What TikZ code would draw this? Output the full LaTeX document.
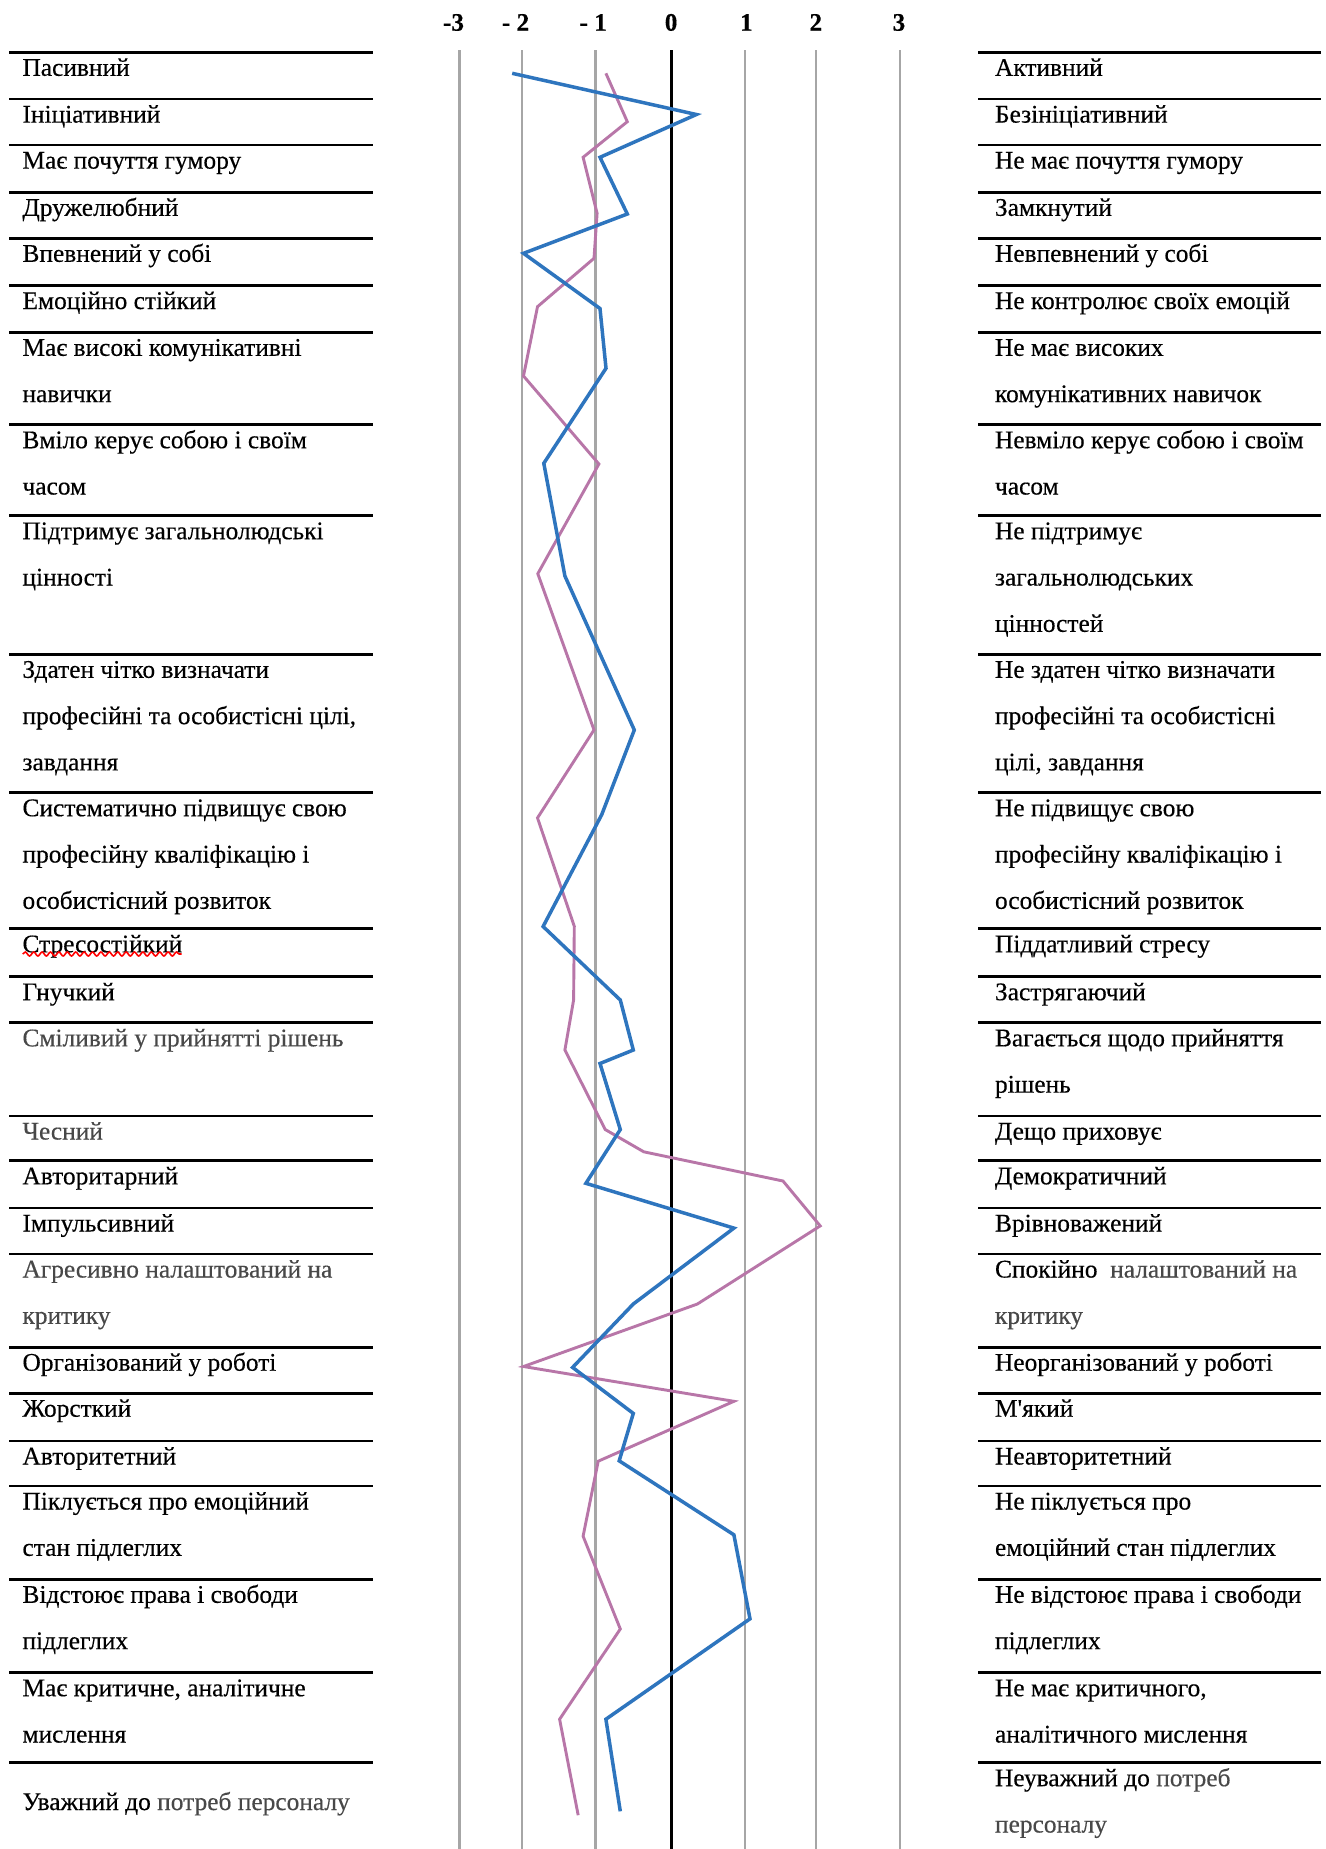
\documentclass[tikz,border=0pt]{standalone}
\usepackage{fontspec}
\setmainfont{Liberation Serif}[Ligatures=TeXOff, FakeBold=0.35]
\usetikzlibrary{decorations.pathmorphing}
\definecolor{serblue}{RGB}{46,117,190}
\definecolor{serpink}{RGB}{184,118,168}
\definecolor{gridgray}{RGB}{166,166,166}
\definecolor{txtgray}{RGB}{72,72,72}
\newcommand\cellfont{\fontsize{12.7pt}{23.15pt}\selectfont}
\newcommand\ts{\rule{0pt}{11.75pt}}
\begin{document}
\begin{tikzpicture}[x=0.5pt,y=-0.5pt,
  cell/.style={anchor=north west, inner sep=0pt, outer sep=0pt, align=left, font=\cellfont},
  rowline/.style={line width=1.35pt, black},
  gridline/.style={line width=1.15pt, gridgray},
  zeroline/.style={line width=1.15pt, black},
  axislbl/.style={anchor=base, inner sep=0pt, font=\fontsize{12.6pt}{15pt}\selectfont\bfseries},
  serA/.style={line width=1.75pt, serblue, line join=miter},
  serB/.style={line width=1.45pt, serpink, line join=miter},
  spell/.style={red, line width=0.8pt, decorate, decoration={snake, amplitude=1pt, segment length=4.2pt}}]
\useasboundingbox (0,0) rectangle (1326,1849);
\fill[white] (0,0) rectangle (1326,1849);

% grid
\foreach \x in {459.6,522,595.4,745,816,900.3} \draw[gridline] (\x,50) -- (\x,1849);
\draw[zeroline] (671.5,50) -- (671.5,1849);

% axis labels
\node[axislbl] (am3) at (453.5,30.7) {-3};
\node[axislbl] (am2) at (515.6,30.7) {- 2};
\node[axislbl] (am1) at (593.2,30.7) {- 1};
\node[axislbl] (a0) at (671.1,30.7) {0};
\node[axislbl] (ap1) at (746.4,30.7) {1};
\node[axislbl] (ap2) at (815.8,30.7) {2};
\node[axislbl] (ap3) at (899,30.7) {3};

% row lines
\foreach \y in {52.3,99.1,145.1,192.3,238.3,285.5,332.3,424.7,515.7,654.3,792.7,928.8,976.7,1022.8,1116,1160.8,1208,1254,1347.2,1393.2,1441,1486,1579.3,1672.7,1762.7}
  {\draw[rowline] (9,\y) -- (373,\y); \draw[rowline] (978,\y) -- (1320.5,\y);}

% left column
\node[cell] (l1) at (22.5,52.3) {\ts Пасивний};
\node[cell] (l2) at (22.5,99.1) {\ts Ініціативний};
\node[cell] (l3) at (22.5,145.1) {\ts Має почуття гумору};
\node[cell] (l4) at (22.5,192.3) {\ts Дружелюбний};
\node[cell] (l5) at (22.5,238.3) {\ts Впевнений у собі};
\node[cell] (l6) at (22.5,285.5) {\ts Емоційно стійкий};
\node[cell] (l7) at (22.5,332.3) {\ts Має високі комунікативні\\навички};
\node[cell] (l8) at (22.5,424.7) {\ts Вміло керує собою і своїм\\часом};
\node[cell] (l9) at (22.5,515.7) {\ts Підтримує загальнолюдські\\цінності};
\node[cell] (l10) at (22.5,654.3) {\ts Здатен чітко визначати\\професійні та особистісні цілі,\\завдання};
\node[cell] (l11) at (22.5,792.7) {\ts Систематично підвищує свою\\професійну кваліфікацію і\\особистісний розвиток};
\node[cell] (l12) at (22.5,928.8) {\ts Стресостійкий};
\node[cell] (l13) at (22.5,976.7) {\ts Гнучкий};
\node[cell, text=txtgray] (l14) at (22.5,1022.8) {\ts Сміливий у прийнятті рішень};
\node[cell, text=txtgray] (l15) at (22.5,1116) {\ts Чесний};
\node[cell] (l16) at (22.5,1160.8) {\ts Авторитарний};
\node[cell] (l17) at (22.5,1208) {\ts Імпульсивний};
\node[cell, text=txtgray] (l18) at (22.5,1254) {\ts Агресивно налаштований на\\критику};
\node[cell] (l19) at (22.5,1347.2) {\ts Організований у роботі};
\node[cell] (l20) at (22.5,1393.2) {\ts Жорсткий};
\node[cell] (l21) at (22.5,1441) {\ts Авторитетний};
\node[cell] (l22) at (22.5,1486) {\ts Піклується про емоційний\\стан підлеглих};
\node[cell] (l23) at (22.5,1579.3) {\ts Відстоює права і свободи\\підлеглих};
\node[cell] (l24) at (22.5,1672.7) {\ts Має критичне, аналітичне\\мислення};
\node[cell] (l25) at (22.5,1786.5) {\ts Уважний до {\color{txtgray}потреб персоналу}};
\draw[spell] (22.7,954) -- (181.5,954);

% right column
\node[cell] (r1) at (995,52.3) {\ts Активний};
\node[cell] (r2) at (995,99.1) {\ts Безініціативний};
\node[cell] (r3) at (995,145.1) {\ts Не має почуття гумору};
\node[cell] (r4) at (995,192.3) {\ts Замкнутий};
\node[cell] (r5) at (995,238.3) {\ts Невпевнений у собі};
\node[cell] (r6) at (995,285.5) {\ts Не контролює своїх емоцій};
\node[cell] (r7) at (995,332.3) {\ts Не має високих\\комунікативних навичок};
\node[cell] (r8) at (995,424.7) {\ts Невміло керує собою і своїм\\часом};
\node[cell] (r9) at (995,515.7) {\ts Не підтримує\\загальнолюдських\\цінностей};
\node[cell] (r10) at (995,654.3) {\ts Не здатен чітко визначати\\професійні та особистісні\\цілі, завдання};
\node[cell] (r11) at (995,792.7) {\ts Не підвищує свою\\професійну кваліфікацію і\\особистісний розвиток};
\node[cell] (r12) at (995,928.8) {\ts Піддатливий стресу};
\node[cell] (r13) at (995,976.7) {\ts Застрягаючий};
\node[cell] (r14) at (995,1022.8) {\ts Вагається щодо прийняття\\рішень};
\node[cell] (r15) at (995,1116) {\ts Дещо приховує};
\node[cell] (r16) at (995,1160.8) {\ts Демократичний};
\node[cell] (r17) at (995,1208) {\ts Врівноважений};
\node[cell] (r18) at (995,1254) {\ts Спокійно\ \ {\color{txtgray}налаштований на}\\\color{txtgray}критику};
\node[cell] (r19) at (995,1347.2) {\ts Неорганізований у роботі};
\node[cell] (r20) at (995,1393.2) {\ts М'який};
\node[cell] (r21) at (995,1441) {\ts Неавторитетний};
\node[cell] (r22) at (995,1486) {\ts Не піклується про\\емоційний стан підлеглих};
\node[cell] (r23) at (995,1579.3) {\ts Не відстоює права і свободи\\підлеглих};
\node[cell] (r24) at (995,1672.7) {\ts Не має критичного,\\аналітичного мислення};
\node[cell] (r25) at (995,1762.7) {\ts Неуважний до {\color{txtgray}потреб}\\\color{txtgray}персоналу};

% data points
\coordinate (b1) at (512.2,73.3);
\coordinate (b2) at (696.4,114.5);
\coordinate (b3) at (600,157.3);
\coordinate (b4) at (627.3,214);
\coordinate (b5) at (523.5,253.3);
\coordinate (b6) at (600,308.5);
\coordinate (b7) at (606,368.3);
\coordinate (b8) at (543.8,463.3);
\coordinate (b9) at (564.9,576);
\coordinate (b10) at (634.3,730);
\coordinate (b11) at (601.7,814.7);
\coordinate (b12) at (543.1,926.5);
\coordinate (b13) at (620.3,1000);
\coordinate (b14) at (633.3,1050);
\coordinate (b15) at (600,1063.5);
\coordinate (b16) at (620.3,1129.5);
\coordinate (b17) at (585.9,1183.3);
\coordinate (b18) at (733.9,1228.1);
\coordinate (b19) at (633.3,1304);
\coordinate (b20) at (572.6,1367.4);
\coordinate (b21) at (633.3,1413.4);
\coordinate (b22) at (619.2,1460.8);
\coordinate (b23) at (733.9,1534.8);
\coordinate (b24) at (750,1618.8);
\coordinate (b25) at (605.9,1719.2);
\coordinate (b26) at (620.3,1811.3);

\coordinate (p1) at (605.9,73.3);
\coordinate (p2) at (627.3,121.7);
\coordinate (p3) at (583.1,157.3);
\coordinate (p4) at (597.1,213.3);
\coordinate (p5) at (594,258.3);
\coordinate (p6) at (537.5,306.7);
\coordinate (p7) at (523.5,376);
\coordinate (p8) at (598.9,464);
\coordinate (p9) at (537.8,573.7);
\coordinate (p10) at (594,729.9);
\coordinate (p11) at (537.5,817.9);
\coordinate (p12) at (574.3,926.3);
\coordinate (p13) at (573.6,1000);
\coordinate (p14) at (564.9,1050);
\coordinate (p15) at (605.2,1129.5);
\coordinate (p16) at (643.8,1151.8);
\coordinate (p17) at (783,1181);
\coordinate (p18) at (820.2,1225.9);
\coordinate (p19) at (697.4,1304);
\coordinate (p20) at (523.5,1366.5);
\coordinate (p21) at (733.9,1401.3);
\coordinate (p22) at (598.2,1461.2);
\coordinate (p23) at (583.1,1536.2);
\coordinate (p24) at (620.3,1629);
\coordinate (p25) at (559.6,1719.2);
\coordinate (p26) at (578.2,1815.2);

\draw[serB] (p1) -- (p2) -- (p3) -- (p4) -- (p5) -- (p6) -- (p7) -- (p8) -- (p9) -- (p10) -- (p11) -- (p12) -- (p13) -- (p14) -- (p15) -- (p16) -- (p17) -- (p18) -- (p19) -- (p20) -- (p21) -- (p22) -- (p23) -- (p24) -- (p25) -- (p26);
\draw[serA] (b1) -- (b2) -- (b3) -- (b4) -- (b5) -- (b6) -- (b7) -- (b8) -- (b9) -- (b10) -- (b11) -- (b12) -- (b13) -- (b14) -- (b15) -- (b16) -- (b17) -- (b18) -- (b19) -- (b20) -- (b21) -- (b22) -- (b23) -- (b24) -- (b25) -- (b26);
\end{tikzpicture}
\end{document}
